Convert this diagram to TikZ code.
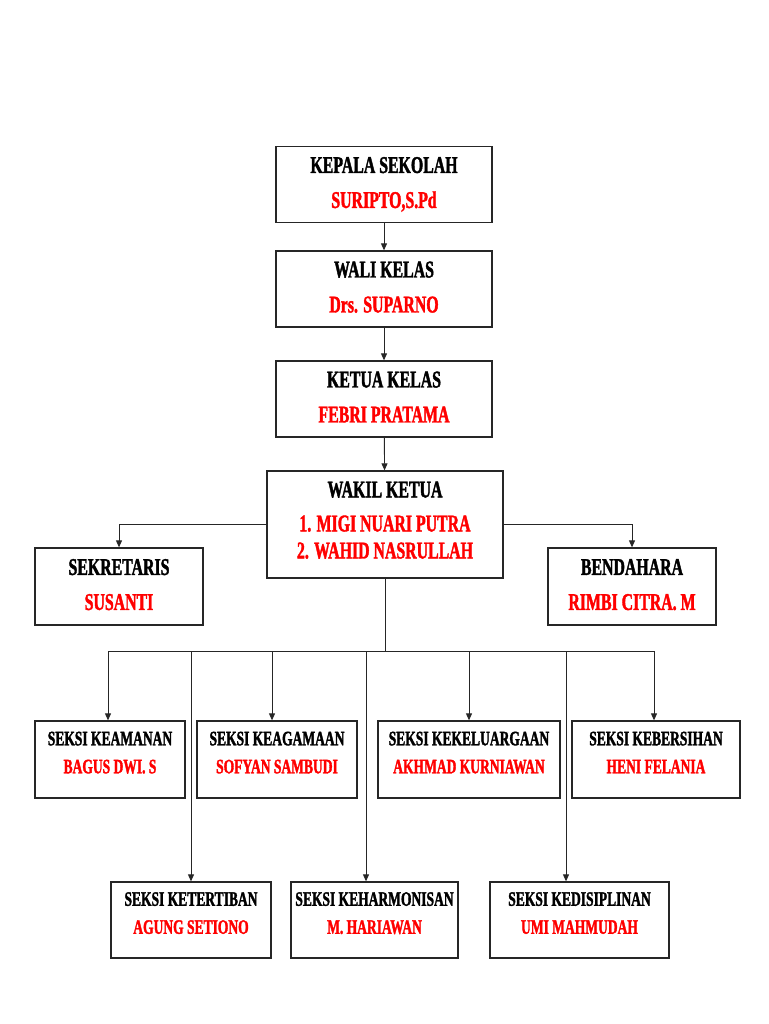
\documentclass[tikz,border=0pt]{standalone}
\usepackage{fontspec}
\setmainfont{Liberation Serif}[FakeStretch=0.66, BoldFeatures={FakeBold=1.6}]
\usetikzlibrary{positioning,calc,arrows.meta}
\newcommand{\liftup}{\rule[-14pt]{0pt}{1pt}}
\newcommand{\liftbig}{\rule[-4pt]{0pt}{1pt}}

\begin{document}
\begin{tikzpicture}[x=1pt, y=-1pt,
    bigbox/.style={draw=black!85, line width=1.3pt, minimum width=216pt, minimum height=76pt, align=center, inner sep=2pt, font=\fontsize{24}{35}\selectfont\bfseries},
    sidebox/.style={bigbox, minimum width=168pt, minimum height=77pt},
    seksi/.style={draw=black!85, line width=1.3pt, minimum height=77pt, align=center, inner sep=2pt, font=\fontsize{20.5}{28}\selectfont\bfseries},
    arr/.style={-{Triangle[length=7pt,width=6pt]}, line width=0.9pt, black!85},
    conn/.style={line width=0.9pt, black!85}
]
    \useasboundingbox[fill=white] (0,0) rectangle (768,1024);

    % Top chain
    \node[bigbox] (kepsek) at (384,184.5) {KEPALA SEKOLAH\\\textcolor{red}{SURIPTO,S.Pd}\liftbig};
    \node[bigbox] (wali) at (384,289) {WALI KELAS\\\textcolor{red}{Drs. SUPARNO}\liftbig};
    \node[bigbox] (ketua) at (384,399) {KETUA KELAS\\\textcolor{red}{FEBRI PRATAMA}\liftbig};
    \node[bigbox, minimum width=236pt, minimum height=107pt, font=\fontsize{24}{34}\selectfont\bfseries] (wakil) at (385,524.5) {WAKIL KETUA\\\textcolor{red}{1. MIGI NUARI PUTRA}\\[-7pt]\textcolor{red}{2. WAHID NASRULLAH}\rule[-9pt]{0pt}{1pt}};
    \draw[arr] (kepsek) -- (wali);
    \draw[arr] (wali) -- (ketua);
    \draw[arr] (ketua) -- (wakil);

    % Sekretaris and bendahara
    \node[sidebox] (sekre) at (119,586.5) {SEKRETARIS\\\textcolor{red}{SUSANTI}\liftbig};
    \node[sidebox] (benda) at (632,586.5) {BENDAHARA\\\textcolor{red}{RIMBI CITRA. M}\liftbig};
    \draw[arr] (wakil.west) -| (sekre.north);
    \draw[arr] (wakil.east) -| (benda.north);

    % Seksi, first row
    \node[seksi, minimum width=150pt] (aman) at (110,759.5) {SEKSI KEAMANAN\\\textcolor{red}{BAGUS DWI. S}\liftup};
    \node[seksi, minimum width=160pt] (agama) at (277,759.5) {SEKSI KEAGAMAAN\\\textcolor{red}{SOFYAN SAMBUDI}\liftup};
    \node[seksi, minimum width=182pt] (keluarga) at (469,759.5) {SEKSI KEKELUARGAAN\\\textcolor{red}{AKHMAD KURNIAWAN}\liftup};
    \node[seksi, minimum width=168pt] (bersih) at (656,759.5) {SEKSI KEBERSIHAN\\\textcolor{red}{HENI FELANIA}\liftup};

    % Seksi, second row
    \node[seksi, minimum width=160pt, minimum height=76pt] (tertib) at (191,920) {SEKSI KETERTIBAN\\\textcolor{red}{AGUNG SETIONO}\liftup};
    \node[seksi, minimum width=167pt, minimum height=76pt] (harmonis) at (374.5,920) {SEKSI KEHARMONISAN\\\textcolor{red}{M. HARIAWAN}\liftup};
    \node[seksi, minimum width=179pt, minimum height=76pt] (disiplin) at (579.5,920) {SEKSI KEDISIPLINAN\\\textcolor{red}{UMI MAHMUDAH}\liftup};

    % Bus to the seksi
    \coordinate (bus) at (wakil.south |- 0,651);
    \coordinate (busW) at (108,651);
    \coordinate (busE) at (654,651);
    \draw[conn] (wakil.south) -- (bus);
    \draw[conn] (busW) -- (busE);
    \foreach \dx/\nd in {108/aman, 272/agama, 469/keluarga, 654/bersih, 191/tertib, 366/harmonis, 566/disiplin}{
        \coordinate (drop) at (\dx,651);
        \draw[arr] (drop) -- (drop |- \nd.north);
    }
\end{tikzpicture}
\end{document}
